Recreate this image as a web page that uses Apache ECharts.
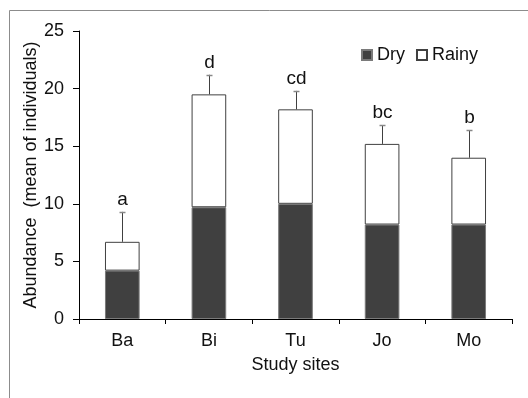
<!DOCTYPE html>
<html>
<head>
<meta charset="utf-8">
<script src="https://cdn.jsdelivr.net/npm/echarts@6/dist/echarts.min.js"></script>
<style>
html,body{margin:0;padding:0;background:#fff;}
#c{width:528px;height:398px;}
</style>
</head>
<body>
<div id="c"></div>
<script>
const categories = ['Ba', 'Bi', 'Tu', 'Jo', 'Mo'];
const dryValues = [4.2, 9.7, 10.0, 8.2, 8.2];
const rainyValues = [2.5, 9.8, 8.2, 7.0, 5.8];
const errorValues = [2.6, 1.7, 1.6, 1.6, 2.4];
const groupLetters = ['a', 'd', 'cd', 'bc', 'b'];
const yTicks = [0, 5, 10, 15, 20, 25];

const FONT = "'Liberation Sans', Arial, sans-serif";
const chart = echarts.init(document.getElementById('c'), null, {renderer: 'canvas'});

const errData = categories.map((c, i) => [i, +(dryValues[i] + rainyValues[i]).toFixed(2), errorValues[i], groupLetters[i]]);

chart.setOption({
  animation: false,
  backgroundColor: '#fff',
  graphic: [{
    type: 'rect', z: -10, silent: true,
    shape: {x: 9.5, y: 10.5, width: 700, height: 700},
    style: {fill: 'none', stroke: '#8c8c8c', lineWidth: 1}
  }],
  grid: {left: 79, right: 16, top: 31, bottom: 79},
  legend: {
    left: 356, top: 41,
    itemWidth: 10, itemHeight: 10, itemGap: 11,
    icon: 'rect',
    textStyle: {fontFamily: FONT, fontSize: 18, color: '#111'},
    data: ['Dry', 'Rainy']
  },
  xAxis: {
    type: 'category',
    data: categories,
    name: 'Study sites',
    nameLocation: 'middle',
    nameGap: 37,
    nameMoveOverlap: false,
    nameTextStyle: {fontFamily: FONT, fontSize: 18, color: '#111'},
    axisLine: {lineStyle: {color: '#000', width: 1}},
    axisTick: {show: true, length: 5, inside: false, alignWithLabel: false, lineStyle: {color: '#000'}},
    axisLabel: {fontFamily: FONT, fontSize: 18, color: '#111', margin: 13}
  },
  yAxis: {
    type: 'value',
    min: yTicks[0], max: yTicks[yTicks.length - 1], interval: 5,
    name: 'Abundance  (mean of individuals)',
    nameLocation: 'middle',
    nameGap: 39,
    nameMoveOverlap: false,
    nameTextStyle: {fontFamily: FONT, fontSize: 18, color: '#111'},
    axisLine: {show: true, lineStyle: {color: '#000', width: 1}},
    axisTick: {show: true, length: 6, inside: false, lineStyle: {color: '#000'}},
    axisLabel: {fontFamily: FONT, fontSize: 18, color: '#111', margin: 15},
    splitLine: {show: false}
  },
  series: [
    {
      name: 'Dry', type: 'bar', stack: 's', data: dryValues,
      barCategoryGap: '60%',
      itemStyle: {color: '#404040', borderColor: '#7a7a7a', borderWidth: 1}
    },
    {
      name: 'Rainy', type: 'bar', stack: 's', data: rainyValues,
      itemStyle: {color: '#ffffff', borderColor: '#404040', borderWidth: 1}
    },
    {
      name: 'err', type: 'custom', data: errData, z: 5,
      renderItem: function (params, api) {
        const idx = api.value(0);
        const base = api.value(1);
        const err = api.value(2);
        const p1 = api.coord([idx, base]);
        const p2 = api.coord([idx, base + err]);
        const x = Math.round(p1[0]) + 0.5;
        return {
          type: 'group',
          children: [
            {type: 'line', shape: {x1: x, y1: p1[1], x2: x, y2: p2[1]}, style: {stroke: '#404040', lineWidth: 1}},
            {type: 'line', shape: {x1: x - 3, y1: Math.round(p2[1]) + 0.5, x2: x + 3, y2: Math.round(p2[1]) + 0.5}, style: {stroke: '#888', lineWidth: 1.5}},
            {type: 'text', x: x, y: p2[1] - 3, style: {text: groupLetters[params.dataIndex], fontFamily: FONT, fontSize: 19, fill: '#111', align: 'center', verticalAlign: 'bottom'}}
          ]
        };
      }
    }
  ]
});
</script>
</body>
</html>
